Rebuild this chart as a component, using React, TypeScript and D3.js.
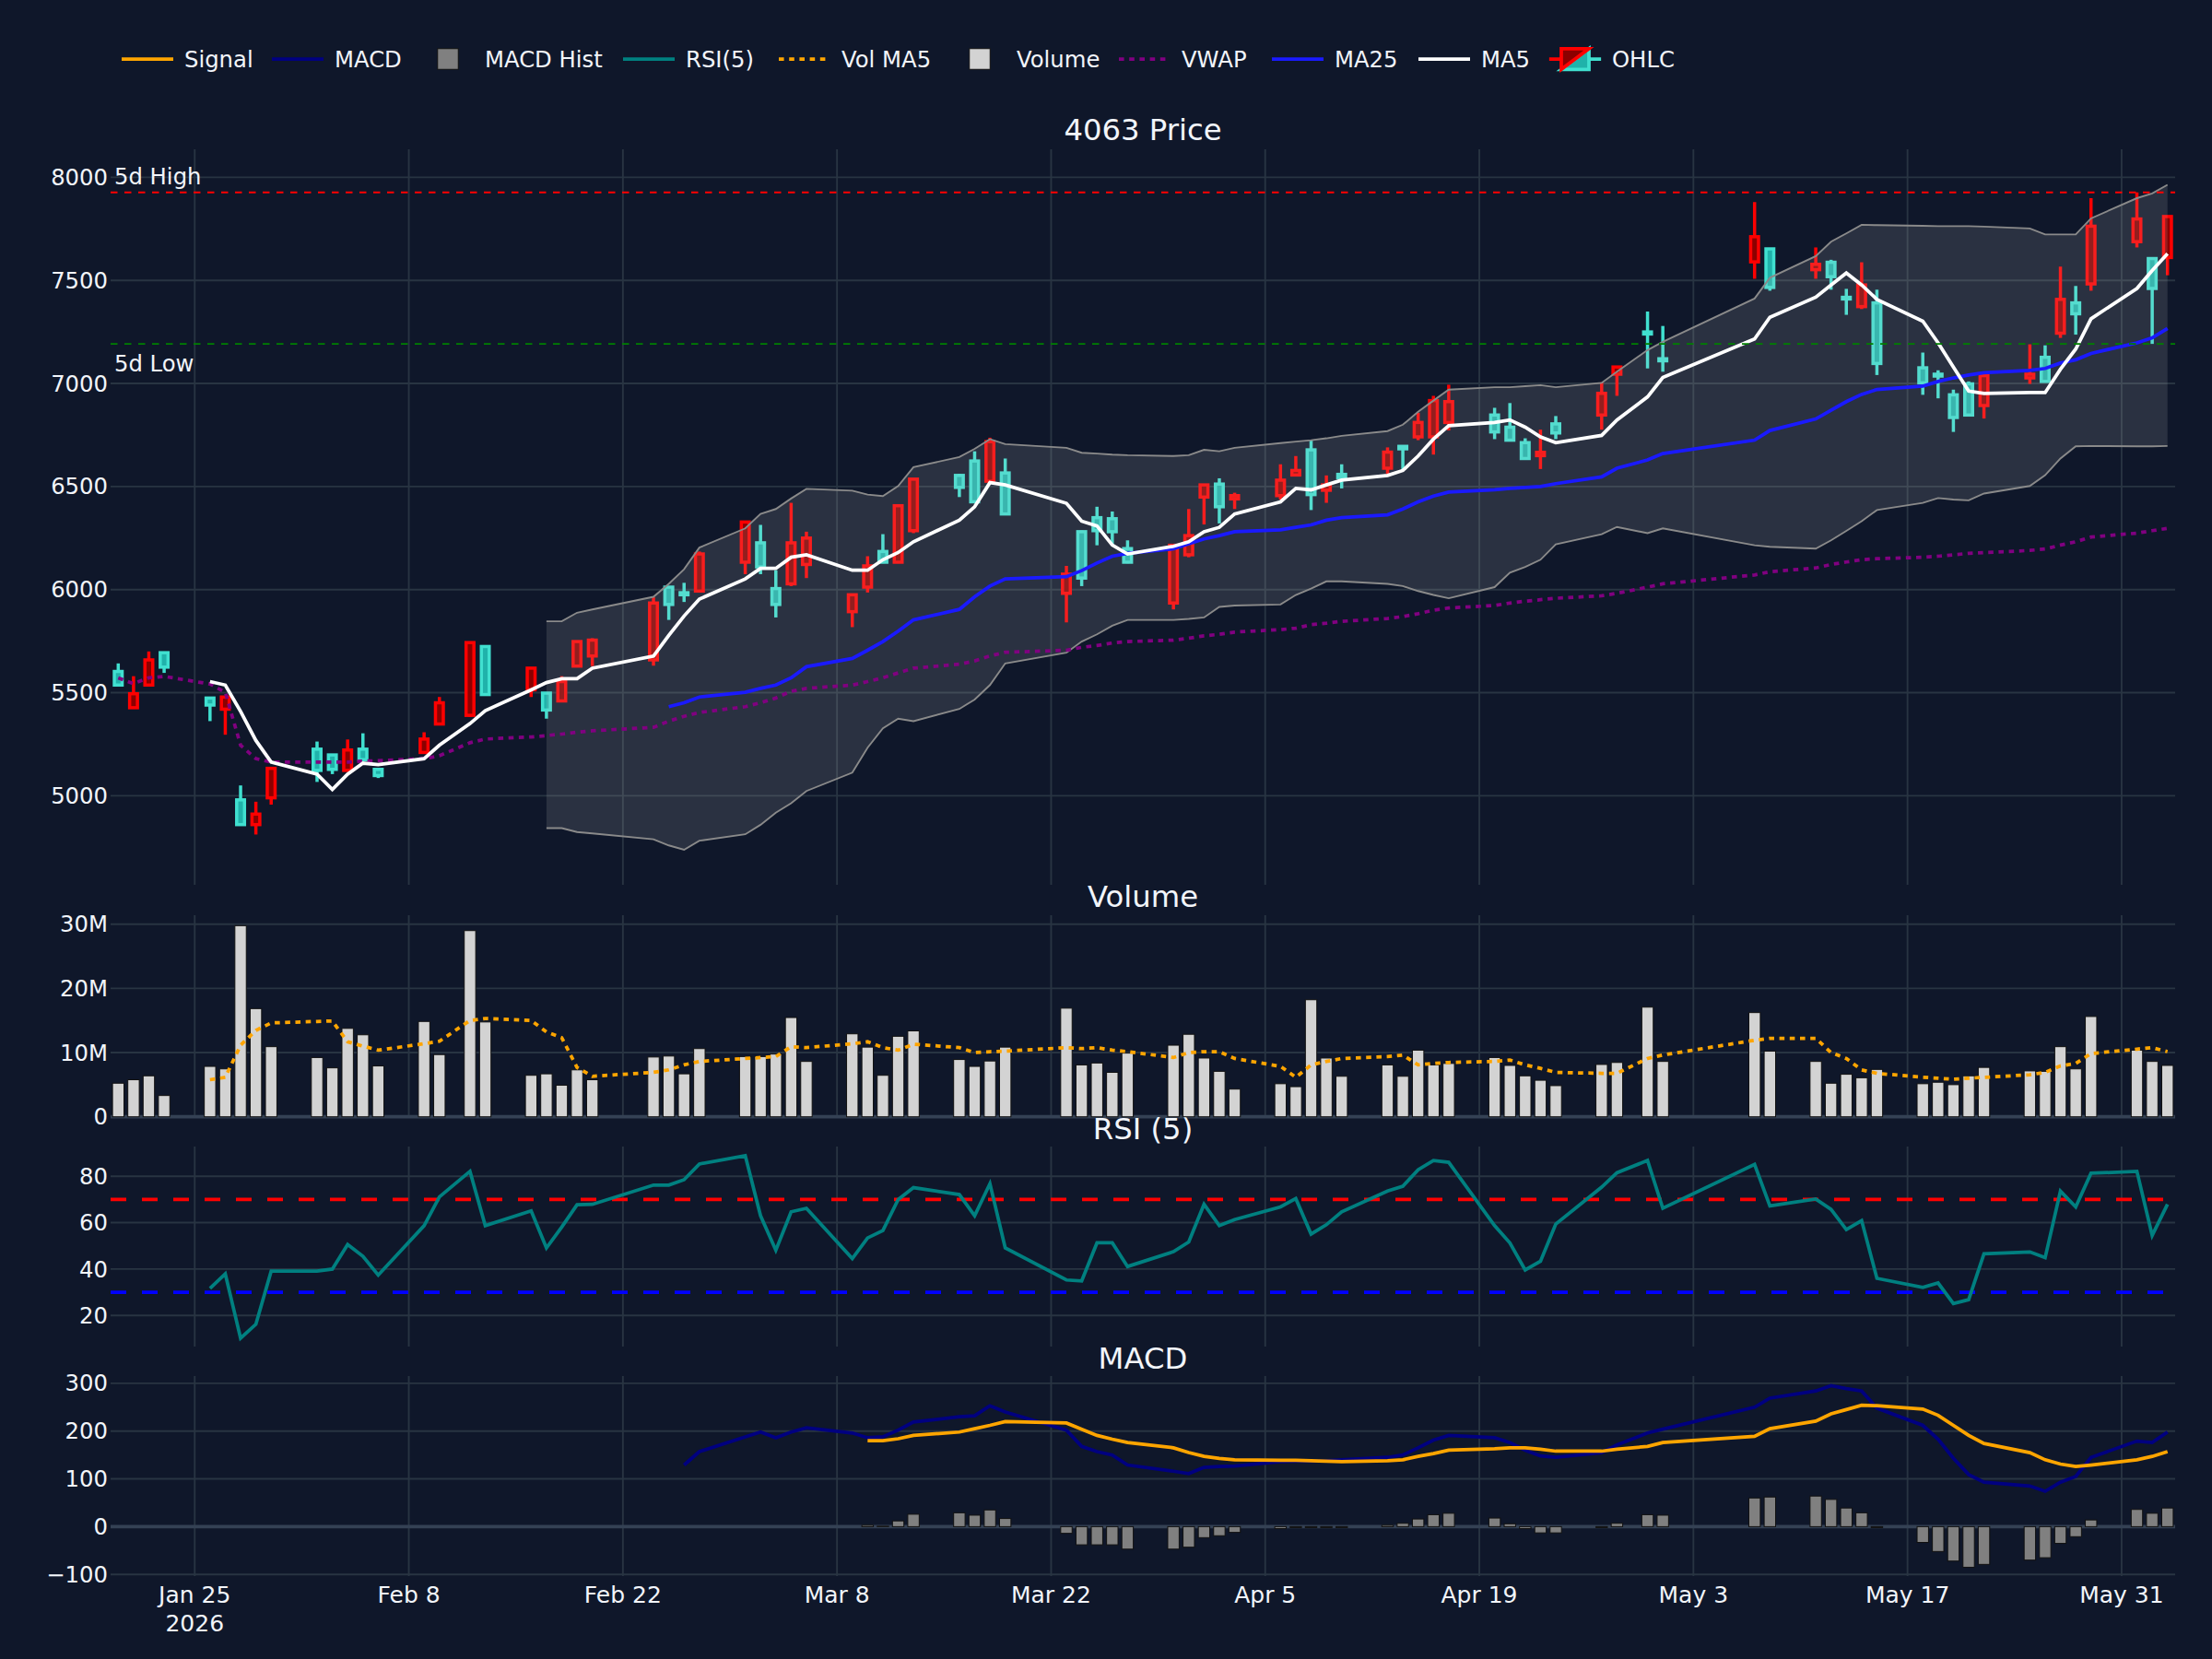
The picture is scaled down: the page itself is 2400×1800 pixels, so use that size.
import React from 'react';
import * as d3 from 'd3';

// trading days (JST calendar, holidays skipped)
const dates = [
  '2026-01-20', '2026-01-21', '2026-01-22', '2026-01-23', '2026-01-26', '2026-01-27', '2026-01-28', '2026-01-29', '2026-01-30',
  '2026-02-02', '2026-02-03', '2026-02-04', '2026-02-05', '2026-02-06', '2026-02-09', '2026-02-10', '2026-02-12', '2026-02-13',
  '2026-02-16', '2026-02-17', '2026-02-18', '2026-02-19', '2026-02-20', '2026-02-24', '2026-02-25', '2026-02-26', '2026-02-27',
  '2026-03-02', '2026-03-03', '2026-03-04', '2026-03-05', '2026-03-06', '2026-03-09', '2026-03-10', '2026-03-11', '2026-03-12',
  '2026-03-13', '2026-03-16', '2026-03-17', '2026-03-18', '2026-03-19', '2026-03-23', '2026-03-24', '2026-03-25', '2026-03-26',
  '2026-03-27', '2026-03-30', '2026-03-31', '2026-04-01', '2026-04-02', '2026-04-03', '2026-04-06', '2026-04-07', '2026-04-08',
  '2026-04-09', '2026-04-10', '2026-04-13', '2026-04-14', '2026-04-15', '2026-04-16', '2026-04-17', '2026-04-20', '2026-04-21',
  '2026-04-22', '2026-04-23', '2026-04-24', '2026-04-27', '2026-04-28', '2026-04-30', '2026-05-01', '2026-05-07', '2026-05-08',
  '2026-05-11', '2026-05-12', '2026-05-13', '2026-05-14', '2026-05-15', '2026-05-18', '2026-05-19', '2026-05-20', '2026-05-21',
  '2026-05-22', '2026-05-25', '2026-05-26', '2026-05-27', '2026-05-28', '2026-05-29', '2026-06-01', '2026-06-02', '2026-06-03',
];

const openPx = [
  5603, 5427, 5537, 5694, 5474, 5420, 4980, 4860, 4990, 5226, 5198, 5123, 5226, 5128, 5210, 5348, 5390, 5724,
  5514, 5498, 5460, 5629, 5678, 5659, 6012, 5985, 5993, 6133, 6227, 6005, 6028, 6122, 5893, 6012, 6185, 6133,
  6286, 6554, 6624, 6526, 6566, 5982, 6281, 6349, 6344, 6199, 5935, 6169, 6449, 6512, 6440, 6456, 6556, 6678,
  6482, 6559, 6589, 6695, 6741, 6741, 6811, 6847, 6788, 6713, 6650, 6804, 6847, 7045, 7250, 7120, 7590, 7653,
  7552, 7588, 7418, 7373, 7391, 7076, 7045, 6945, 6998, 6893, 7027, 7127, 7244, 7391, 7483, 7688, 7606, 7611,
];
const highPx = [
  5642, 5580, 5700, 5696, 5476, 5482, 5050, 4971, 5135, 5263, 5200, 5273, 5303, 5130, 5308, 5479, 5748, 5726,
  5622, 5500, 5580, 5750, 5764, 5963, 6015, 6033, 6185, 6330, 6314, 6094, 6421, 6281, 5978, 6162, 6269, 6410,
  6538, 6562, 6671, 6737, 6636, 6115, 6286, 6402, 6379, 6239, 6220, 6391, 6510, 6540, 6470, 6608, 6648, 6725,
  6554, 6608, 6690, 6697, 6858, 6940, 6994, 6882, 6905, 6734, 6776, 6842, 7006, 7082, 7349, 7279, 7880, 7655,
  7660, 7600, 7459, 7588, 7455, 7150, 7064, 6970, 7010, 7057, 7190, 7185, 7567, 7473, 7899, 7927, 7608, 7812,
];
const lowPx = [
  5535, 5425, 5535, 5596, 5362, 5296, 4855, 4812, 4957, 5067, 5105, 5120, 5170, 5086, 5205, 5345, 5383, 5489,
  5479, 5374, 5458, 5625, 5629, 5631, 5853, 5940, 5990, 6075, 6075, 5865, 6017, 6056, 5818, 5986, 6128, 6128,
  6274, 6449, 6420, 6520, 6362, 5841, 6017, 6215, 6222, 6128, 5904, 6157, 6316, 6321, 6391, 6437, 6550, 6386,
  6421, 6491, 6561, 6578, 6725, 6655, 6772, 6730, 6720, 6632, 6585, 6730, 6776, 6940, 7073, 7057, 7508, 7450,
  7508, 7455, 7333, 7361, 7041, 6945, 6928, 6765, 6845, 6830, 6998, 7008, 7221, 7237, 7450, 7660, 7192, 7525,
];
const closePx = [
  5537, 5495, 5659, 5624, 5440, 5479, 4860, 4911, 5133, 5123, 5128, 5222, 5175, 5098, 5275, 5451, 5743, 5491,
  5619, 5416, 5554, 5748, 5755, 5935, 5928, 5975, 6173, 6328, 6110, 5928, 6227, 6250, 5975, 6115, 6133, 6407,
  6536, 6496, 6426, 6718, 6367, 6075, 6056, 6286, 6281, 6133, 6215, 6262, 6508, 6402, 6456, 6531, 6578, 6461,
  6508, 6543, 6667, 6683, 6811, 6917, 6912, 6765, 6725, 6636, 6666, 6760, 6952, 7080, 7240, 7110, 7712, 7466,
  7578, 7518, 7410, 7478, 7097, 7003, 7036, 6835, 6847, 7038, 7045, 7010, 7408, 7338, 7763, 7798, 7461, 7810,
];

const ma5 = [
  null, null, null, null, 5554, 5537, 5409, 5268, 5163, 5105, 5030, 5105, 5158, 5151, 5180, 5245, 5350, 5413,
  5514, 5549, 5568, 5568, 5619, 5678, 5778, 5872, 5954, 6052, 6103, 6103, 6157, 6169, 6094, 6094, 6145, 6180,
  6232, 6337, 6402, 6519, 6508, 6419, 6332, 6309, 6216, 6173, 6210, 6232, 6281, 6302, 6367, 6426, 6491, 6484,
  6508, 6531, 6554, 6578, 6648, 6730, 6795, 6811, 6823, 6788, 6741, 6713, 6748, 6823, 6935, 7029, 7216, 7321,
  7419, 7478, 7536, 7478, 7408, 7302, 7197, 7080, 6963, 6952, 6956, 6956, 7069, 7167, 7314, 7461, 7548, 7630,
];
const ma25 = [
  null, null, null, null, null, null, null, null, null, null, null, null, null, null, null, null, null, null,
  null, null, null, null, null, null, 5432, 5451, 5479, 5502, 5521, 5537, 5572, 5626, 5666, 5706, 5748, 5799,
  5853, 5904, 5965, 6017, 6052, 6063, 6092, 6129, 6162, 6176, 6198, 6222, 6246, 6262, 6281, 6290, 6302, 6314,
  6337, 6349, 6363, 6391, 6426, 6454, 6473, 6484, 6491, 6496, 6500, 6514, 6547, 6589, 6629, 6660, 6725, 6772,
  6828, 6870, 6912, 6947, 6971, 6987, 7010, 7027, 7041, 7052, 7064, 7073, 7099, 7115, 7146, 7197, 7221, 7267,
];
const vwap = [
  5572, 5544, 5572, 5579, 5542, 5502, 5245, 5180, 5163, 5163, 5163, 5163, 5168, 5170, 5180, 5194, 5257, 5275,
  5285, 5292, 5299, 5308, 5315, 5332, 5362, 5385, 5404, 5432, 5451, 5474, 5507, 5521, 5537, 5554, 5572, 5596,
  5619, 5638, 5654, 5678, 5696, 5706, 5720, 5729, 5741, 5748, 5755, 5764, 5776, 5783, 5794, 5806, 5813, 5830,
  5837, 5846, 5860, 5869, 5883, 5900, 5911, 5923, 5935, 5944, 5951, 5958, 5970, 5982, 6012, 6028, 6071, 6087,
  6105, 6122, 6134, 6145, 6150, 6157, 6162, 6169, 6176, 6180, 6190, 6197, 6216, 6232, 6255, 6274, 6286, 6297,
];
const bbUpper = [
  null, null, null, null, null, null, null, null, null, null, null, null, null, null, null, null, null, null,
  null, 5846, 5846, 5888, 5904, 5965, 6028, 6099, 6204, 6297, 6367, 6391, 6442, 6489, 6480, 6461, 6454, 6503,
  6594, 6643, 6683, 6730, 6706, 6688, 6664, 6660, 6655, 6652, 6648, 6652, 6678, 6671, 6688, 6711, 6718, 6725,
  6734, 6746, 6769, 6800, 6863, 6917, 6970, 6982, 6982, 6987, 6992, 6982, 7003, 7057, 7162, 7202, 7412, 7513,
  7618, 7688, 7728, 7770, 7768, 7765, 7763, 7763, 7763, 7761, 7752, 7723, 7723, 7723, 7801, 7899, 7922, 7964,
];
const bbLower = [
  null, null, null, null, null, null, null, null, null, null, null, null, null, null, null, null, null, null,
  null, 4843, 4843, 4824, 4817, 4789, 4759, 4738, 4782, 4813, 4859, 4918, 4964, 5023, 5112, 5233, 5327, 5374,
  5362, 5421, 5467, 5537, 5642, 5694, 5748, 5783, 5825, 5853, 5853, 5858, 5865, 5916, 5923, 5928, 5974, 6005,
  6040, 6040, 6028, 6017, 5993, 5974, 5958, 6012, 6082, 6110, 6145, 6220, 6269, 6304, 6274, 6297, 6215, 6208,
  6199, 6239, 6285, 6332, 6386, 6421, 6444, 6437, 6433, 6466, 6503, 6555, 6636, 6695, 6697, 6695, 6695, 6697,
];

// volume in millions of shares
const volume = [
  5.23, 5.77, 6.38, 3.31, 7.85, 7.46, 29.77, 16.85, 10.92, 9.23, 7.62, 13.77, 12.77, 7.92, 14.85, 9.69, 29.0, 14.77,
  6.46, 6.69, 4.92, 7.31, 5.77, 9.31, 9.46, 6.69, 10.62, 9.38, 9.38, 9.77, 15.46, 8.62, 12.92, 10.85, 6.46, 12.54,
  13.38, 8.92, 7.85, 8.69, 10.85, 16.92, 8.08, 8.38, 6.92, 9.92, 11.15, 12.85, 9.15, 7.08, 4.31, 5.15, 4.69, 18.23,
  9.15, 6.31, 8.08, 6.31, 10.38, 8.08, 8.31, 9.23, 8.0, 6.38, 5.69, 4.85, 8.15, 8.46, 17.08, 8.62, 16.23, 10.23,
  8.62, 5.23, 6.62, 6.08, 7.38, 5.15, 5.38, 5.0, 6.38, 7.69, 7.15, 7.08, 10.92, 7.46, 15.62, 10.38, 8.62, 8.0,
];
const volMa5 = [
  null, null, null, null, 5.77, 6.15, 11.15, 13.46, 14.62, 14.85, 14.92, 11.69, 11.0, 10.38, 11.38, 11.77, 15.0, 15.31,
  15.0, 13.23, 12.31, 7.69, 6.31, 6.92, 7.31, 8.08, 8.62, 9.08, 9.23, 9.38, 10.92, 10.77, 11.38, 11.69, 10.77, 10.38,
  11.31, 10.77, 10.0, 10.15, 10.23, 10.77, 10.62, 10.77, 10.38, 10.15, 9.23, 10.0, 10.15, 10.15, 9.08, 7.85, 6.15, 8.08,
  8.62, 9.08, 9.38, 9.62, 8.08, 8.31, 8.46, 8.62, 8.85, 8.08, 7.54, 6.92, 6.77, 6.77, 9.08, 9.62, 11.92, 12.23,
  12.23, 10.0, 9.08, 7.31, 6.77, 6.15, 6.0, 5.85, 6.0, 6.15, 6.54, 6.92, 7.92, 8.31, 9.85, 10.54, 10.77, 10.15,
];

const rsi5 = [
  null, null, null, null, 31.7, 37.9, 10.2, 16.2, 39.1, 39.1, 40.0, 50.6, 45.5, 37.4, 58.7, 71.1, 82.1, 58.7,
  65.1, 49.1, 58.1, 67.7, 67.9, 76.2, 76.2, 78.5, 85.3, 88.9, 63.0, 48.1, 64.7, 66.2, 44.5, 53.4, 56.6, 70.0,
  75.1, 72.1, 63.0, 76.8, 49.1, 35.3, 34.9, 51.3, 51.3, 41.1, 47.5, 51.7, 67.9, 58.7, 61.3, 66.8, 70.4, 55.1,
  59.1, 64.7, 73.6, 75.7, 82.8, 86.8, 86.0, 58.7, 51.3, 39.6, 43.4, 59.4, 75.3, 81.5, 86.8, 66.2, 85.1, 67.2,
  70.2, 65.7, 57.0, 60.9, 36.0, 32.1, 34.0, 25.1, 26.8, 46.6, 47.4, 44.9, 73.6, 66.8, 81.3, 82.1, 54.5, 67.9,
];

const macd = [
  null, null, null, null, null, null, null, null, null, null, null, null, null, null, null, null, null, null,
  null, null, null, null, null, null, null, 129, 157, 188, 198, 186, 198, 207, 196, 186, 188, 202,
  219, 230, 232, 253, 240, 202, 168, 157, 150, 129, 116, 111, 124, 126, 127, 136, 137, 137,
  138, 140, 145, 150, 165, 181, 191, 186, 176, 160, 148, 145, 155, 171, 196, 204, 250, 269,
  284, 295, 289, 284, 248, 212, 183, 143, 109, 93, 85, 74, 93, 105, 145, 179, 176, 198,
];
const signal = [
  null, null, null, null, null, null, null, null, null, null, null, null, null, null, null, null, null, null,
  null, null, null, null, null, null, null, null, null, null, null, null, null, null, null, 180, 180, 184,
  191, 198, 205, 212, 220, 217, 204, 191, 183, 176, 165, 155, 147, 143, 140, 139, 139, 138,
  137, 136, 138, 140, 147, 153, 160, 163, 165, 165, 162, 158, 158, 162, 168, 176, 189, 205,
  221, 236, 245, 254, 253, 246, 233, 212, 191, 174, 155, 140, 131, 126, 129, 140, 147, 157,
];
const macdHist = [
  null, null, null, null, null, null, null, null, null, null, null, null, null, null, null, null, null, null,
  null, null, null, null, null, null, null, null, null, null, null, null, null, null, null, 3, 1, 12,
  26, 29, 24, 35, 17, -14, -38, -38, -38, -47, -47, -43, -23, -19, -12, -4, -2, -2,
  -2, -2, 3, 7, 16, 25, 28, 18, 6, -4, -13, -13, -2, 7, 25, 24, 60, 62,
  64, 57, 39, 29, -2, -33, -52, -72, -85, -79, -70, -65, -35, -21, 14, 36, 28, 39,
];

const xTicks = ['2026-01-25', '2026-02-08', '2026-02-22', '2026-03-08', '2026-03-22', '2026-04-05', '2026-04-19', '2026-05-03', '2026-05-17', '2026-05-31'];
const priceTicks = [5000, 5500, 6000, 6500, 7000, 7500, 8000];
const volTicks = [0, 10, 20, 30];
const rsiTicks = [20, 40, 60, 80];
const macdTicks = [-100, 0, 100, 200, 300];

const FONT = '"DejaVu Sans", Verdana, sans-serif';
const BG = '#0f172a';
const TXT = '#f2f5fa';
const GRID = '#283442';
const ZERO = '#344154';
const FS = 24.3; // tick / legend font
const FT = 32.3; // subplot title font
const L = 120, R = 2360;

const legendItems = [
  { name: 'Signal', kind: 'line', color: '#FFA500', tx: 200 },
  { name: 'MACD', kind: 'line', color: '#000080', tx: 363 },
  { name: 'MACD Hist', kind: 'box', color: '#808080', tx: 526 },
  { name: 'RSI(5)', kind: 'line', color: '#008080', tx: 744 },
  { name: 'Vol MA5', kind: 'dot', color: '#FFA500', tx: 913 },
  { name: 'Volume', kind: 'box', color: '#D3D3D3', tx: 1103 },
  { name: 'VWAP', kind: 'dot', color: '#800080', tx: 1282 },
  { name: 'MA25', kind: 'line', color: '#1a1aff', tx: 1448 },
  { name: 'MA5', kind: 'line', color: '#ffffff', tx: 1607 },
  { name: 'OHLC', kind: 'candle', color: '', tx: 1749 },
];

export default function App() {
  const parse = d3.utcParse('%Y-%m-%d');
  const dt = dates.map((d) => parse(d) as Date);
  const x = d3.scaleUtc()
    .domain([new Date(Date.UTC(2026, 0, 19, 12)), new Date(Date.UTC(2026, 5, 3, 12))])
    .range([L, R]);

  const yP = d3.scaleLinear().domain([4568, 8136]).range([960, 162]);
  const yV = d3.scaleLinear().domain([0, 31.4]).range([1211.7, 993]);
  const yR = d3.scaleLinear().domain([6.6, 92.8]).range([1461, 1244]);
  const yM = d3.scaleLinear().domain([-103.4, 315.2]).range([1710, 1493]);

  const lineOf = (vals: (number | null)[], y: d3.ScaleLinear<number, number>) =>
    d3.line<number | null>()
      .defined((v) => v != null)
      .x((_, i) => x(dt[i]))
      .y((v) => y(v as number))(vals) || '';

  const band = d3.area<number>()
    .defined((i) => bbUpper[i] != null)
    .x((i) => x(dt[i]))
    .y0((i) => yP(bbLower[i] as number))
    .y1((i) => yP(bbUpper[i] as number))(d3.range(dates.length)) || '';

  const hi5 = d3.max(highPx.slice(-5)) as number;
  const lo5 = d3.min(lowPx.slice(-5)) as number;

  const fmtTick = d3.utcFormat('%b %-d');
  const panels = [
    { y: yP, ticks: priceTicks, top: 162, bottom: 960, label: (v: number) => String(v) },
    { y: yV, ticks: volTicks, top: 993, bottom: 1211.7, label: (v: number) => (v === 0 ? '0' : `${v}M`) },
    { y: yR, ticks: rsiTicks, top: 1244, bottom: 1461, label: (v: number) => String(v) },
    { y: yM, ticks: macdTicks, top: 1493, bottom: 1710, label: (v: number) => (v < 0 ? `\u2212${-v}` : String(v)) },
  ];
  const barW = 12.4;

  return (
    <>
      <style>{`body{margin:0;background:${BG};}`}</style>
      <svg width={2400} height={1800} style={{ display: 'block', background: BG, fontFamily: FONT }}>
        <rect x={0} y={0} width={2400} height={1800} fill={BG} />

        {/* grids */}
        {panels.map((p, pi) => (
          <g key={`grid${pi}`}>
            {xTicks.map((t) => {
              const xx = x(parse(t) as Date);
              return <line key={t} x1={xx} x2={xx} y1={p.top} y2={p.bottom} stroke={GRID} strokeWidth={1.9} />;
            })}
            {p.ticks.map((t) => (
              <g key={t}>
                <line x1={L} x2={R} y1={p.y(t)} y2={p.y(t)} stroke={GRID} strokeWidth={1.9} />
                <text x={117} y={p.y(t) + 8.6} textAnchor="end" fontSize={FS} fill={TXT}>{p.label(t)}</text>
              </g>
            ))}
          </g>
        ))}
        <line x1={L} x2={R} y1={yV(0)} y2={yV(0)} stroke={ZERO} strokeWidth={3.75} />
        <line x1={L} x2={R} y1={yM(0)} y2={yM(0)} stroke={ZERO} strokeWidth={3.75} />

        {/* x tick labels */}
        {xTicks.map((t, i) => {
          const d = parse(t) as Date;
          return (
            <g key={t}>
              <text x={x(d)} y={1739} textAnchor="middle" fontSize={25} fill={TXT}>{fmtTick(d)}</text>
              {i === 0 && <text x={x(d)} y={1770} textAnchor="middle" fontSize={25} fill={TXT}>2026</text>}
            </g>
          );
        })}

        {/* subplot titles */}
        <text x={(L + R) / 2} y={152} textAnchor="middle" fontSize={FT} fill={TXT}>4063 Price</text>
        <text x={(L + R) / 2} y={984} textAnchor="middle" fontSize={FT} fill={TXT}>Volume</text>
        <text x={(L + R) / 2} y={1236} textAnchor="middle" fontSize={FT} fill={TXT}>RSI (5)</text>
        <text x={(L + R) / 2} y={1485} textAnchor="middle" fontSize={FT} fill={TXT}>MACD</text>

        {/* candles */}
        {dt.map((d, i) => {
          const up = closePx[i] >= openPx[i];
          const stroke = up ? '#FF0000' : '#40E0D0';
          const fill = up ? '#8B0000' : '#20B2AA';
          const cx = x(d);
          const top = yP(Math.max(openPx[i], closePx[i]));
          const bot = yP(Math.min(openPx[i], closePx[i]));
          return (
            <g key={`c${i}`}>
              <line x1={cx} x2={cx} y1={yP(highPx[i])} y2={yP(lowPx[i])} stroke={stroke} strokeWidth={3.5} />
              <rect x={cx - 4.25} y={top} width={8.5} height={Math.max(bot - top, 0.5)} fill={fill} stroke={stroke} strokeWidth={3.5} />
            </g>
          );
        })}

        {/* bollinger band */}
        <path d={band} fill="rgba(200,200,200,0.15)" stroke="none" />
        <path d={lineOf(bbUpper, yP)} fill="none" stroke="#8a8a8a" strokeWidth={1.9} />
        <path d={lineOf(bbLower, yP)} fill="none" stroke="#8a8a8a" strokeWidth={1.9} />

        <path d={lineOf(vwap, yP)} fill="none" stroke="#800080" strokeWidth={3.75} strokeDasharray="5.6,5.6" />
        <path d={lineOf(ma25, yP)} fill="none" stroke="#1a1aff" strokeWidth={3.75} />
        <path d={lineOf(ma5, yP)} fill="none" stroke="#ffffff" strokeWidth={3.75} />

        {/* 5d high / low */}
        <line x1={L} x2={R} y1={yP(hi5)} y2={yP(hi5)} stroke="#FF0000" strokeWidth={1.9} strokeDasharray="7.5,7.5" />
        <line x1={L} x2={R} y1={yP(lo5)} y2={yP(lo5)} stroke="#008000" strokeWidth={1.9} strokeDasharray="7.5,7.5" />
        <text x={124} y={yP(hi5) - 9} fontSize={FS} fill={TXT}>5d High</text>
        <text x={124} y={yP(lo5) + 30} fontSize={FS} fill={TXT}>5d Low</text>

        {/* volume */}
        {dt.map((d, i) => (
          <rect key={`v${i}`} x={x(d) - barW / 2} y={yV(volume[i])} width={barW} height={yV(0) - yV(volume[i])}
            fill="#D3D3D3" stroke="#111111" strokeWidth={1} />
        ))}
        <path d={lineOf(volMa5, yV)} fill="none" stroke="#FFA500" strokeWidth={3.75} strokeDasharray="5.6,5.6" />

        {/* RSI */}
        <line x1={L} x2={R} y1={yR(70)} y2={yR(70)} stroke="#FF0000" strokeWidth={3.75} strokeDasharray="17,17" />
        <line x1={L} x2={R} y1={yR(30)} y2={yR(30)} stroke="#0000FF" strokeWidth={3.75} strokeDasharray="17,17" />
        <path d={lineOf(rsi5, yR)} fill="none" stroke="#008080" strokeWidth={3.75} />

        {/* MACD */}
        {dt.map((d, i) => {
          const h = macdHist[i];
          if (h == null) return null;
          const y0 = yM(0), y1 = yM(h);
          return (
            <rect key={`h${i}`} x={x(d) - barW / 2} y={Math.min(y0, y1)} width={barW} height={Math.max(Math.abs(y1 - y0), 0.5)}
              fill="#808080" stroke="#111111" strokeWidth={1} />
          );
        })}
        <path d={lineOf(macd, yM)} fill="none" stroke="#000080" strokeWidth={3.75} />
        <path d={lineOf(signal, yM)} fill="none" stroke="#FFA500" strokeWidth={3.75} />

        {/* legend */}
        {legendItems.map((it) => {
          const cx = it.tx - 40;
          const cy = 64;
          let sym: React.ReactNode = null;
          if (it.kind === 'line' || it.kind === 'dot') {
            sym = <line x1={cx - 28} x2={cx + 28} y1={cy} y2={cy} stroke={it.color} strokeWidth={3.75}
              strokeDasharray={it.kind === 'dot' ? '5.6,5.6' : undefined} />;
          } else if (it.kind === 'box') {
            sym = <rect x={cx - 11.25} y={cy - 11.25} width={22.5} height={22.5} fill={it.color} stroke="#111111" strokeWidth={1} />;
          } else {
            sym = (
              <g transform={`translate(${cx},${cy}) scale(1.875)`}>
                <path d="M15,0H8M8,-6V6H-8Z" fill="#20B2AA" stroke="#40E0D0" strokeWidth={2} />
                <path d="M-15,0H-8M-8,6V-6H8Z" fill="#8B0000" stroke="#FF0000" strokeWidth={2} />
              </g>
            );
          }
          return (
            <g key={it.name}>
              {sym}
              <text x={it.tx} y={72.5} fontSize={FS} fill={TXT}>{it.name}</text>
            </g>
          );
        })}
      </svg>
    </>
  );
}
